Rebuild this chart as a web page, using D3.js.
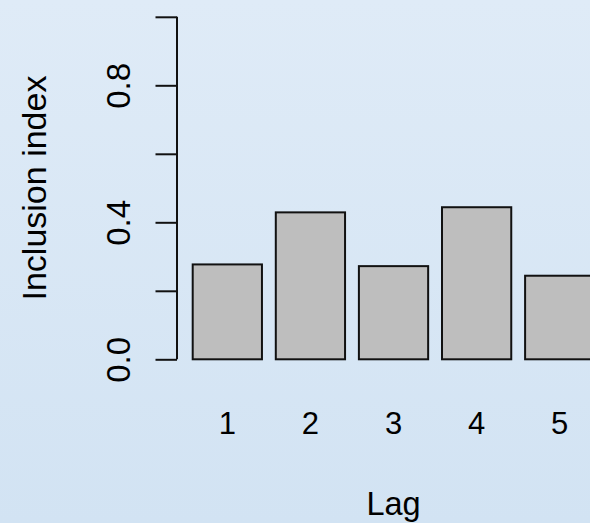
<!DOCTYPE html>
<html>
<head>
<meta charset="utf-8">
<script src="https://cdn.jsdelivr.net/npm/d3@7"></script>
<style>
  html, body { margin: 0; padding: 0; }
  body { width: 590px; height: 523px; overflow: hidden; }
  svg { display: block; }
  text { font-family: "Liberation Sans", Arial, Helvetica, sans-serif; fill: #000; }
</style>
</head>
<body>
<svg id="chart" width="590" height="523"></svg>
<script>
// ---- data ----
const lags = ["1", "2", "3", "4", "5"];
const inclusion = [0.277, 0.429, 0.272, 0.444, 0.244];
const yTicks = [0, 0.2, 0.4, 0.6, 0.8, 1.0];
const yTickLabels = ["0.0", "", "0.4", "", "0.8", ""];
const xTitle = "Lag";
const yTitle = "Inclusion index";

// ---- layout ----
const W = 590, H = 523;
const svg = d3.select("#chart");

const defs = svg.append("defs");
const grad = defs.append("linearGradient").attr("id", "bg")
  .attr("x1", 0).attr("y1", 0).attr("x2", 0).attr("y2", 1);
grad.append("stop").attr("offset", "0%").attr("stop-color", "#dfebf7");
grad.append("stop").attr("offset", "100%").attr("stop-color", "#d2e3f3");
svg.append("rect").attr("width", W).attr("height", H).attr("fill", "url(#bg)");

// barplot geometry (R style: width 1, space 0.2)
const barW = 1, space = 0.2;
const x = d3.scaleLinear().domain([0, 6]).range([178.85, 594.35]);
const y = d3.scaleLinear().domain([0, 1]).range([359.3, 16.8]);
const axisX = 177;

// bars
svg.append("g").selectAll("rect").data(inclusion).join("rect")
  .attr("x", (d, i) => x(space + i * (barW + space)))
  .attr("width", (d, i) => x(space + i * (barW + space) + barW) - x(space + i * (barW + space)))
  .attr("y", d => y(d))
  .attr("height", d => y(0) - y(d))
  .attr("fill", "#bebebe")
  .attr("stroke", "#111")
  .attr("stroke-width", 2);

// y axis
const yAxis = d3.axisLeft(y).tickValues(yTicks).tickSize(21.5).tickFormat((d, i) => yTickLabels[i]);
const gy = svg.append("g").attr("transform", `translate(${axisX},0)`).call(yAxis);
gy.select(".domain").remove();
gy.selectAll(".tick line").attr("stroke", "#111").attr("stroke-width", 2);
gy.append("line").attr("x1", 0).attr("x2", 0)
  .attr("y1", y(yTicks[0])).attr("y2", y(yTicks[yTicks.length - 1]))
  .attr("stroke", "#111").attr("stroke-width", 2);
gy.selectAll(".tick text")
  .attr("x", null).attr("dy", null)
  .attr("transform", "translate(-47,0) rotate(-90)")
  .attr("text-anchor", "middle")
  .style("font-size", "33px")
  .style("font-family", "'Liberation Sans', Arial, sans-serif")
  .attr("fill", "#000");

// x labels (no axis line, like R barplot names)
svg.append("g").selectAll("text").data(lags).join("text")
  .attr("x", (d, i) => x(space + i * (barW + space) + barW / 2))
  .attr("y", 433.5)
  .attr("text-anchor", "middle")
  .style("font-size", "31px")
  .text(d => d);

// axis titles
svg.append("text")
  .attr("x", x(3.1)).attr("y", 515)
  .attr("text-anchor", "middle")
  .style("font-size", "32.5px")
  .text(xTitle);

svg.append("text")
  .attr("transform", `translate(46,${(y(0) + y(1)) / 2}) rotate(-90)`)
  .attr("text-anchor", "middle")
  .style("font-size", "34px")
  .text(yTitle);
</script>
</body>
</html>
